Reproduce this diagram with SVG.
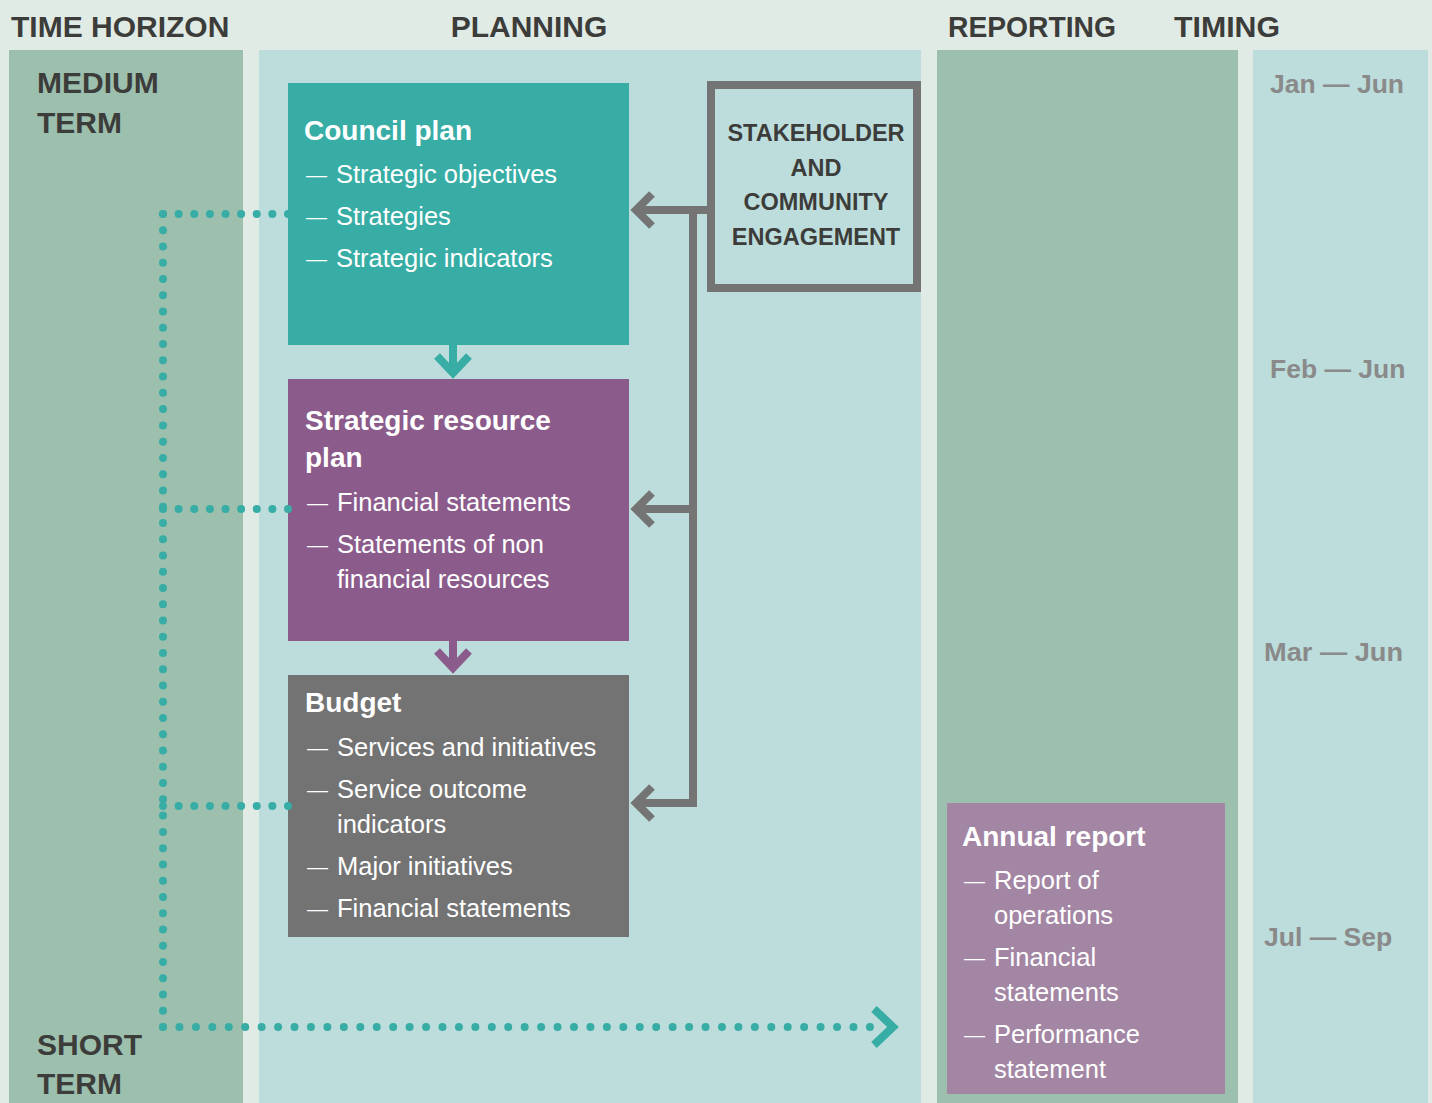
<svg xmlns="http://www.w3.org/2000/svg" width="1432" height="1103" viewBox="0 0 1432 1103">
<style>
.hdr{font-family:"Liberation Sans",Arial,sans-serif;font-weight:bold;font-size:30px;fill:#3C3C3A}
.ttl{font-family:"Liberation Sans",Arial,sans-serif;font-weight:bold;font-size:28px;fill:#FFFFFF}
.itm{font-family:"Liberation Sans",Arial,sans-serif;font-size:25.5px;fill:#FFFFFF}
.d{font-size:21px}
.stk{font-family:"Liberation Sans",Arial,sans-serif;font-weight:bold;font-size:23.5px;fill:#3C3C3A;text-anchor:middle}
.tim{font-family:"Liberation Sans",Arial,sans-serif;font-weight:bold;font-size:26.5px;fill:#8A8A8A}
.dots{fill:none;stroke:#37ADA5;stroke-width:8;stroke-linecap:round;stroke-dasharray:0 16.26}
.hd{stroke-dasharray:0 15.625}
.gcon{fill:none;stroke:#747474;stroke-width:8}
.chev{fill:none;stroke-width:8;stroke-linecap:butt;stroke-linejoin:miter}
</style>
<rect x="0" y="0" width="1432" height="1103" fill="#E1EBE6"/>
<g id="columns">
<rect x="9" y="50" width="234" height="1053" fill="#9CBFAE"/>
<rect x="259" y="50" width="662" height="1053" fill="#BCDDDB"/>
<rect x="937" y="50" width="301" height="1053" fill="#9CBFAE"/>
<rect x="1253" y="50" width="175" height="1053" fill="#BCDDDB"/>
</g>
<g id="headers">
<text class="hdr" x="11" y="37">TIME HORIZON</text>
<text class="hdr" x="529" y="37" text-anchor="middle">PLANNING</text>
<text class="hdr" x="948" y="37" textLength="168" lengthAdjust="spacingAndGlyphs">REPORTING</text>
<text class="hdr" x="1174" y="37" textLength="106" lengthAdjust="spacingAndGlyphs">TIMING</text>
<text class="hdr" x="37" y="93">MEDIUM</text>
<text class="hdr" x="37" y="133">TERM</text>
<text class="hdr" x="37" y="1055">SHORT</text>
<text class="hdr" x="37" y="1094">TERM</text>
</g>
<g id="timing">
<text class="tim" x="1270" y="93">Jan — Jun</text>
<text class="tim" x="1270" y="378">Feb — Jun</text>
<text class="tim" x="1264" y="661" textLength="139" lengthAdjust="spacingAndGlyphs">Mar — Jun</text>
<text class="tim" x="1264" y="946">Jul — Sep</text>
</g>
<g id="council-plan">
<rect x="288" y="83" width="341" height="262" fill="#37ADA5"/>
<text class="ttl" x="304" y="140">Council plan</text>
<text class="itm" x="306" y="183"><tspan class="d" dy="-1">—</tspan><tspan x="336" dy="1">Strategic objectives</tspan></text>
<text class="itm" x="306" y="225"><tspan class="d" dy="-1">—</tspan><tspan x="336" dy="1">Strategies</tspan></text>
<text class="itm" x="306" y="267"><tspan class="d" dy="-1">—</tspan><tspan x="336" dy="1">Strategic indicators</tspan></text>
</g>
<g id="strategic-resource-plan">
<rect x="288" y="379" width="341" height="262" fill="#8B5C8B"/>
<text class="ttl" x="305" y="430">Strategic resource</text>
<text class="ttl" x="305" y="467">plan</text>
<text class="itm" x="307" y="511"><tspan class="d" dy="-1">—</tspan><tspan x="337" dy="1">Financial statements</tspan></text>
<text class="itm" x="307" y="553"><tspan class="d" dy="-1">—</tspan><tspan x="337" dy="1">Statements of non</tspan></text>
<text class="itm" x="337" y="588">financial resources</text>
</g>
<g id="budget">
<rect x="288" y="675" width="341" height="262" fill="#737373"/>
<text class="ttl" x="305" y="712">Budget</text>
<text class="itm" x="307" y="756"><tspan class="d" dy="-1">—</tspan><tspan x="337" dy="1">Services and initiatives</tspan></text>
<text class="itm" x="307" y="798"><tspan class="d" dy="-1">—</tspan><tspan x="337" dy="1">Service outcome</tspan></text>
<text class="itm" x="337" y="833">indicators</text>
<text class="itm" x="307" y="875"><tspan class="d" dy="-1">—</tspan><tspan x="337" dy="1">Major initiatives</tspan></text>
<text class="itm" x="307" y="917"><tspan class="d" dy="-1">—</tspan><tspan x="337" dy="1">Financial statements</tspan></text>
</g>
<g id="stakeholder">
<rect x="711" y="85" width="206" height="203" fill="none" stroke="#747474" stroke-width="8"/>
<text class="stk" x="816" y="141">STAKEHOLDER</text>
<text class="stk" x="816" y="176">AND</text>
<text class="stk" x="816" y="210">COMMUNITY</text>
<text class="stk" x="816" y="245">ENGAGEMENT</text>
</g>
<g id="annual-report">
<rect x="947" y="803" width="278" height="291" fill="#A386A4"/>
<text class="ttl" x="962" y="846">Annual report</text>
<text class="itm" x="964" y="889"><tspan class="d" dy="-1">—</tspan><tspan x="994" dy="1">Report of</tspan></text>
<text class="itm" x="994" y="924">operations</text>
<text class="itm" x="964" y="966"><tspan class="d" dy="-1">—</tspan><tspan x="994" dy="1">Financial</tspan></text>
<text class="itm" x="994" y="1001">statements</text>
<text class="itm" x="964" y="1043"><tspan class="d" dy="-1">—</tspan><tspan x="994" dy="1">Performance</tspan></text>
<text class="itm" x="994" y="1078">statement</text>
</g>
<g id="connectors">
<path class="dots" d="M163 214 V1028"/>
<path class="dots hd" d="M163 214 H290"/>
<path class="dots hd" d="M163 509 H290"/>
<path class="dots hd" d="M163 806 H290"/>
<path class="dots" style="stroke-dasharray:0 16.44" d="M163 1027 H872"/>
<path class="chev" stroke="#37ADA5" stroke-width="7" d="M874 1009 L893 1027 L874 1045"/>
<path d="M453 345 V373" stroke="#37ADA5" stroke-width="8"/>
<path class="chev" stroke="#37ADA5" d="M437 356 L453 373 L469 356"/>
<path d="M453 641 V668" stroke="#8B5C8B" stroke-width="8"/>
<path class="chev" stroke="#8B5C8B" d="M437 651 L453 668 L469 651"/>
<path class="gcon" d="M707 210 H636"/>
<path class="gcon" d="M693 210 V803 H636"/>
<path class="gcon" d="M693 509 H636"/>
<path class="chev" stroke="#747474" d="M652 194 L636 210 L652 226"/>
<path class="chev" stroke="#747474" d="M652 493 L636 509 L652 525"/>
<path class="chev" stroke="#747474" d="M652 787 L636 803 L652 819"/>
</g>
</svg>
